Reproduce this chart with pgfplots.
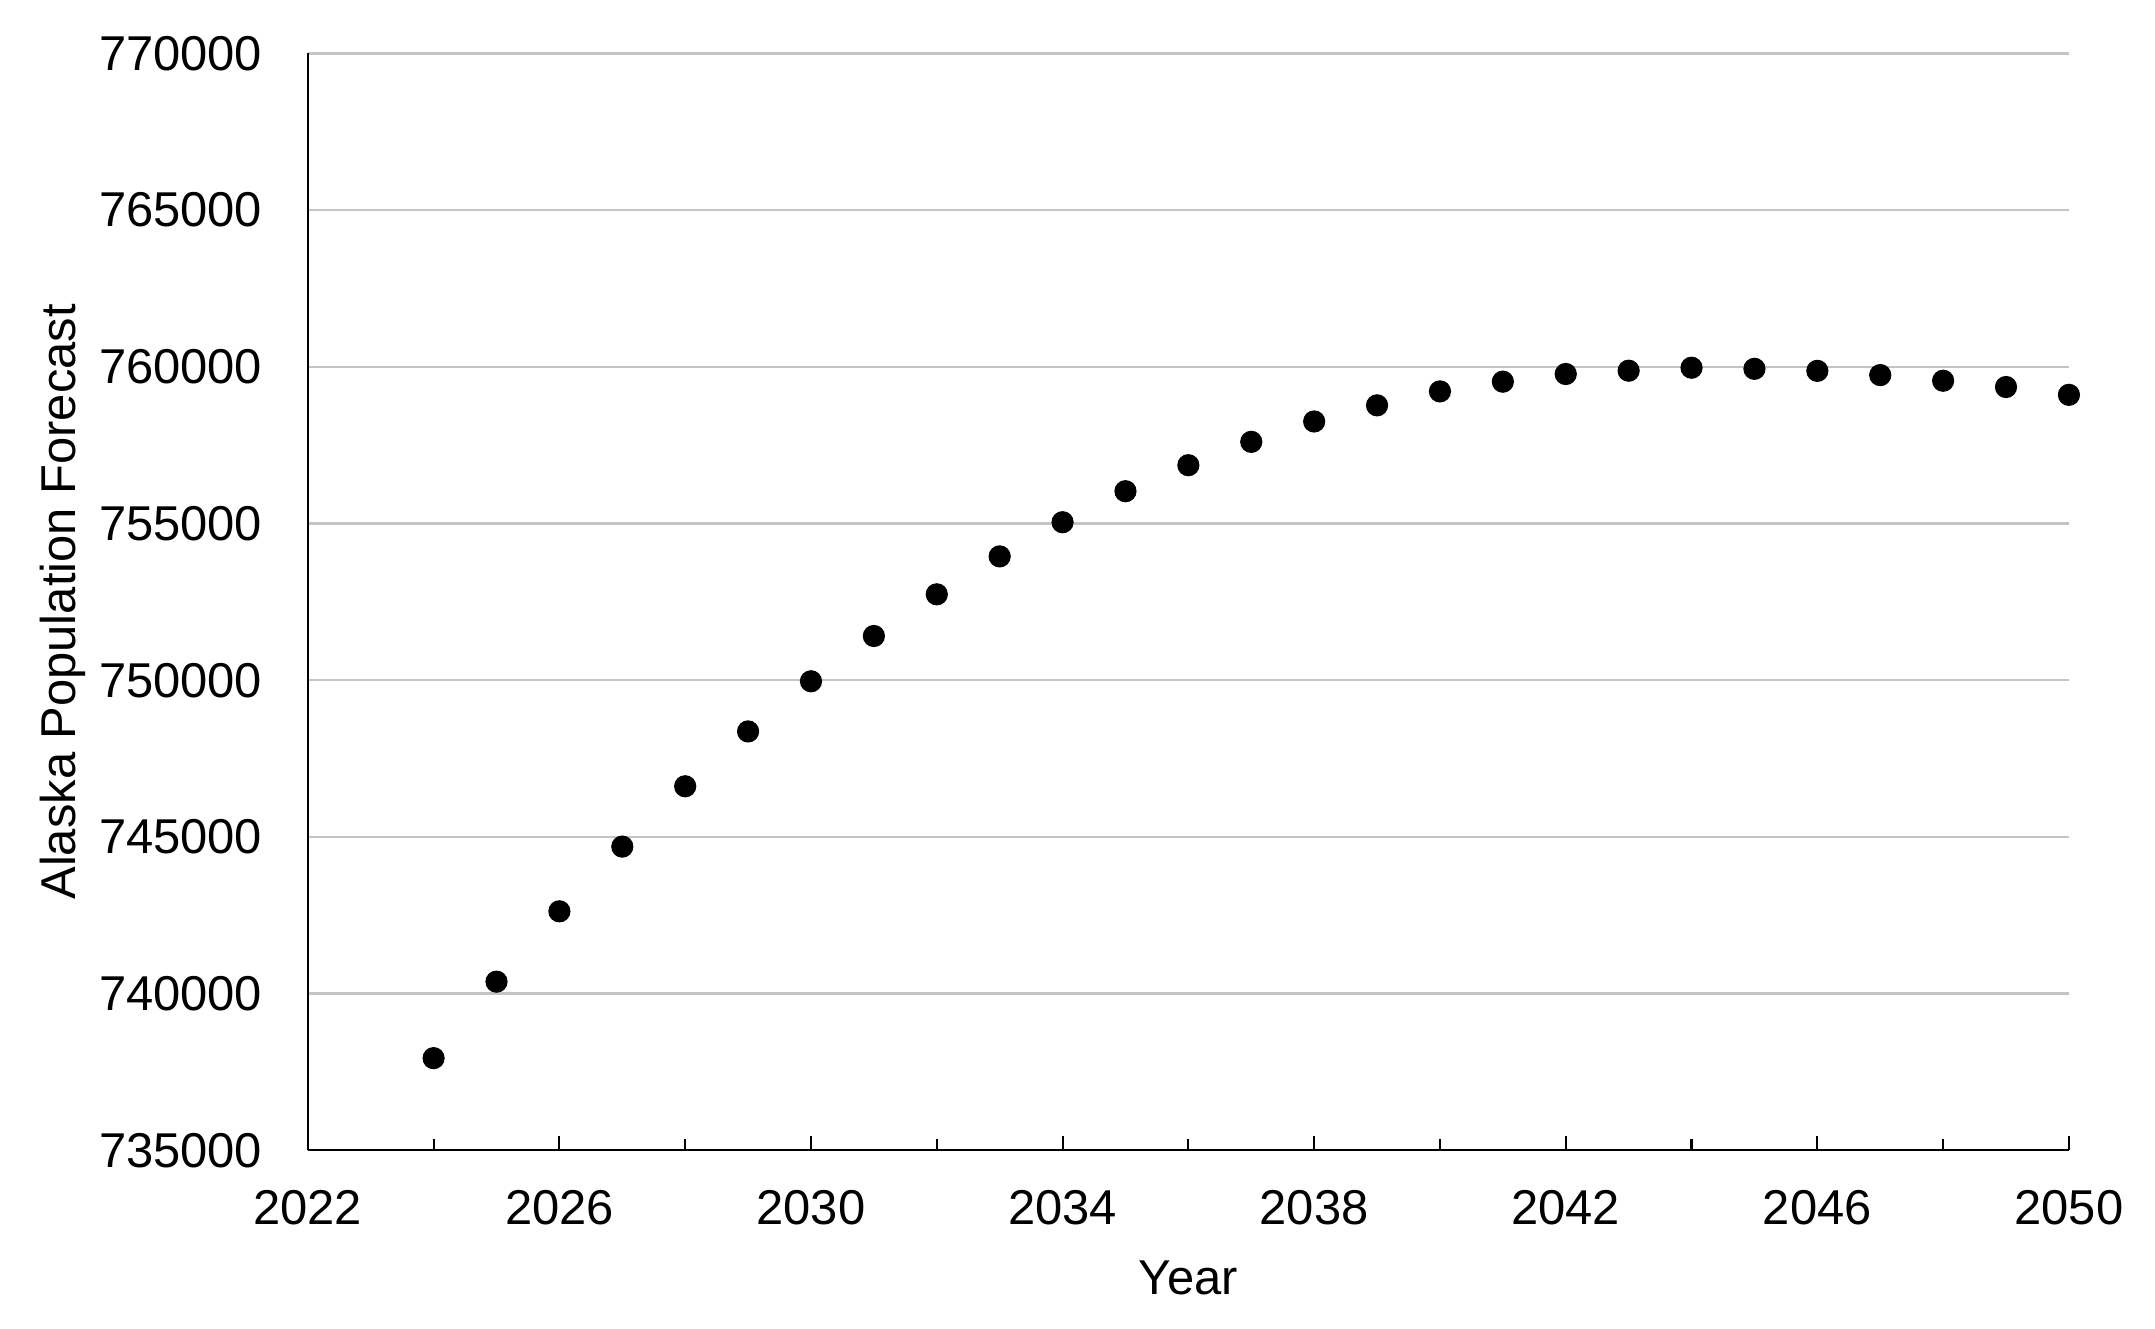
\documentclass[border=0pt]{standalone}
\usepackage{pgfplots}
\pgfplotsset{compat=1.18}
\usepackage{fontspec}
\setmainfont{Liberation Sans}
\definecolor{gridgray}{RGB}{196,196,196}
\begin{document}
\fontsize{16.3}{19}\selectfont
\begin{tikzpicture}
\begin{axis}[
  name=ax,
  scale only axis,
  width=587pt, height=365.6pt,
  xmin=2022, xmax=2050, ymin=735000, ymax=770000,
  axis lines=left,
  axis line style={-, black, line width=0.75pt},
  xtick={2022,2026,2030,2034,2038,2042,2046,2050},
  xticklabels={2022,2026,2030,2034,2038,2042,2046,2050},
  minor xtick={2024,2028,2032,2036,2040,2044,2048},
  ytick={735000,740000,745000,750000,755000,760000,765000,770000},
  yticklabels={735000,740000,745000,750000,755000,760000,765000,770000},
  tick align=inside,
  major tick length=4.7pt,
  minor tick length=3.7pt,
  xtick style={black, line width=0.7pt},
  minor tick style={black, line width=0.7pt},
  ytick style={draw=none},
  ymajorgrids,
  grid style={gridgray, line width=0.8pt},
  scaled y ticks=false,
  xticklabel style={inner sep=0pt, anchor=north},
  yticklabel style={inner sep=0pt, anchor=east, xshift=-15pt},
  xticklabel shift=13.3pt,
  tick label style={font=\fontsize{16.3}{19}\selectfont},
  label style={font=\fontsize{16.3}{19}\selectfont},
  xlabel={Year},
  ylabel={Alaska Population Forecast},
  xlabel style={at={(axis description cs:0.5,-0.1004)}, anchor=north, inner sep=0pt},
  ylabel style={at={(axis description cs:-0.1521,0.5)}, anchor=north, inner sep=0pt},
  clip=false,
]
\addplot[only marks, mark=*, mark size=3.5pt, black] coordinates {
(2024,737940) (2025,740380) (2026,742625) (2027,744690) (2028,746615)
(2029,748365) (2030,749965) (2031,751410) (2032,752740) (2033,753950)
(2034,755040) (2035,756030) (2036,756860) (2037,757605) (2038,758255)
(2039,758770) (2040,759215) (2041,759525) (2042,759770) (2043,759875)
(2044,759970) (2045,759935) (2046,759870) (2047,759735) (2048,759555)
(2049,759355) (2050,759105)
};
\end{axis}
\path ([shift={(-102.6pt,-59.3pt)}]ax.south west) rectangle ([shift={(28.7pt,17.8pt)}]ax.north east);
\end{tikzpicture}
\end{document}
